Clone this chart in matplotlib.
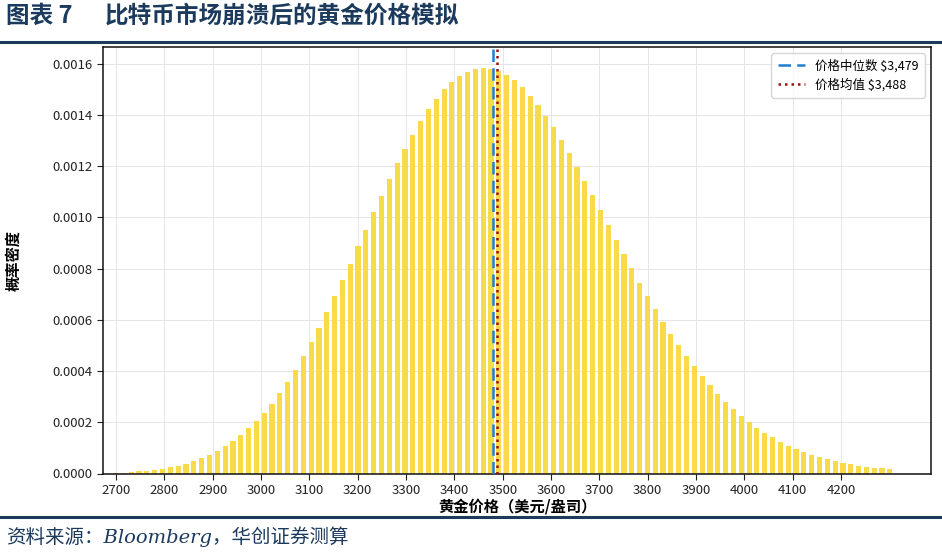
import numpy as np
import matplotlib
matplotlib.use("Agg")
import matplotlib.pyplot as plt

plt.rcParams['font.family'] = ['Noto Sans CJK SC', 'DejaVu Sans']
plt.rcParams['axes.unicode_minus'] = False

# histogram bins (gold price, USD/oz)
bin_lo = 2691.0
bin_hi = 4309.0
n_bins = 100

# density per bin
density = [
    0.000001, 0.000003, 0.000005, 0.000008, 0.000010, 0.000014, 0.000018, 0.000025,
    0.000031, 0.000039, 0.000049, 0.000060, 0.000073, 0.000088, 0.000107, 0.000128,
    0.000151, 0.000176, 0.000206, 0.000238, 0.000273, 0.000315, 0.000358, 0.000406,
    0.000460, 0.000512, 0.000570, 0.000631, 0.000692, 0.000757, 0.000819, 0.000887,
    0.000953, 0.001021, 0.001085, 0.001150, 0.001211, 0.001269, 0.001324, 0.001376,
    0.001422, 0.001463, 0.001500, 0.001530, 0.001553, 0.001569, 0.001580, 0.001584,
    0.001582, 0.001573, 0.001557, 0.001537, 0.001509, 0.001476, 0.001440, 0.001398,
    0.001353, 0.001303, 0.001251, 0.001199, 0.001142, 0.001086, 0.001029, 0.000972,
    0.000913, 0.000857, 0.000801, 0.000746, 0.000695, 0.000643, 0.000592, 0.000545,
    0.000501, 0.000458, 0.000419, 0.000380, 0.000345, 0.000312, 0.000279, 0.000250,
    0.000224, 0.000201, 0.000178, 0.000159, 0.000141, 0.000124, 0.000108, 0.000096,
    0.000084, 0.000073, 0.000064, 0.000055, 0.000048, 0.000041, 0.000036, 0.000030,
    0.000027, 0.000023, 0.000020, 0.000018,
]

median_price = 3479
mean_price = 3488
x_ticks = list(range(2700, 4300, 100))
y_ticks = [0.0, 0.0002, 0.0004, 0.0006, 0.0008, 0.0010, 0.0012, 0.0014, 0.0016]

title_num = "图表 7"
title_text = "比特币市场崩溃后的黄金价格模拟"
source_text = "资料来源：Bloomberg，华创证券测算"

navy = "#1b3a5c"

fig = plt.figure(figsize=(9.42, 5.52), dpi=100)
ax = fig.add_axes([103 / 942, 1 - 473.5 / 552, 828 / 942, 426.5 / 552])

edges = np.linspace(bin_lo, bin_hi, n_bins + 1)
centers = (edges[:-1] + edges[1:]) / 2
bw = edges[1] - edges[0]
ax.bar(centers, density, width=bw * 0.66, color="#F9D940", alpha=0.95,
       edgecolor="none", zorder=2)

ax.axvline(median_price, color="#1f7fd0", ls=(0, (5, 2.5)), lw=1.8, zorder=3,
           label=f"价格中位数 ${median_price:,}")
ax.axvline(mean_price, color="#9b1010", ls=(0, (1, 1.6)), lw=1.8, zorder=3,
           label=f"价格均值 ${mean_price:,}")

ax.set_xlim(2673, 4386)
ax.set_ylim(0, 0.001666)
ax.set_xticks(x_ticks)
ax.set_yticks(y_ticks)
ax.set_yticklabels([f"{v:.4f}" for v in y_ticks])
ax.tick_params(labelsize=9.5, length=4, colors="#222222")
ax.grid(True, color="#e6e6e6", lw=0.7, zorder=0)
ax.set_axisbelow(True)
for s in ax.spines.values():
    s.set_color("#111111")
    s.set_linewidth(1.1)

ax.set_xlabel("黄金价格（美元/盎司）", fontsize=11, fontweight="bold", labelpad=1)
ax.set_ylabel("概率密度", fontsize=11, fontweight="bold", labelpad=22)

leg = ax.legend(loc="upper right", fontsize=9, frameon=True, handlelength=2.2,
                borderpad=0.5, labelspacing=0.4)
leg.get_frame().set_edgecolor("#cccccc")

fig.text(0.006, 0.972, title_num, fontsize=17, fontweight="bold", color=navy,
         va="center", ha="left")
fig.text(105 / 942, 0.972, title_text, fontsize=17, fontweight="bold", color=navy,
         va="center", ha="left")
fig.add_artist(plt.Line2D([0, 1], [1 - 42 / 552, 1 - 42 / 552], color=navy, lw=2.2))
fig.add_artist(plt.Line2D([0, 1], [1 - 517 / 552, 1 - 517 / 552], color=navy, lw=2.2))
fig.text(0.006, 1 - 537 / 552, source_text, fontsize=14, style="italic", color=navy,
         va="center", ha="left", family=["DejaVu Serif", "Noto Sans CJK SC"])

fig.savefig("out.png", dpi=100)
